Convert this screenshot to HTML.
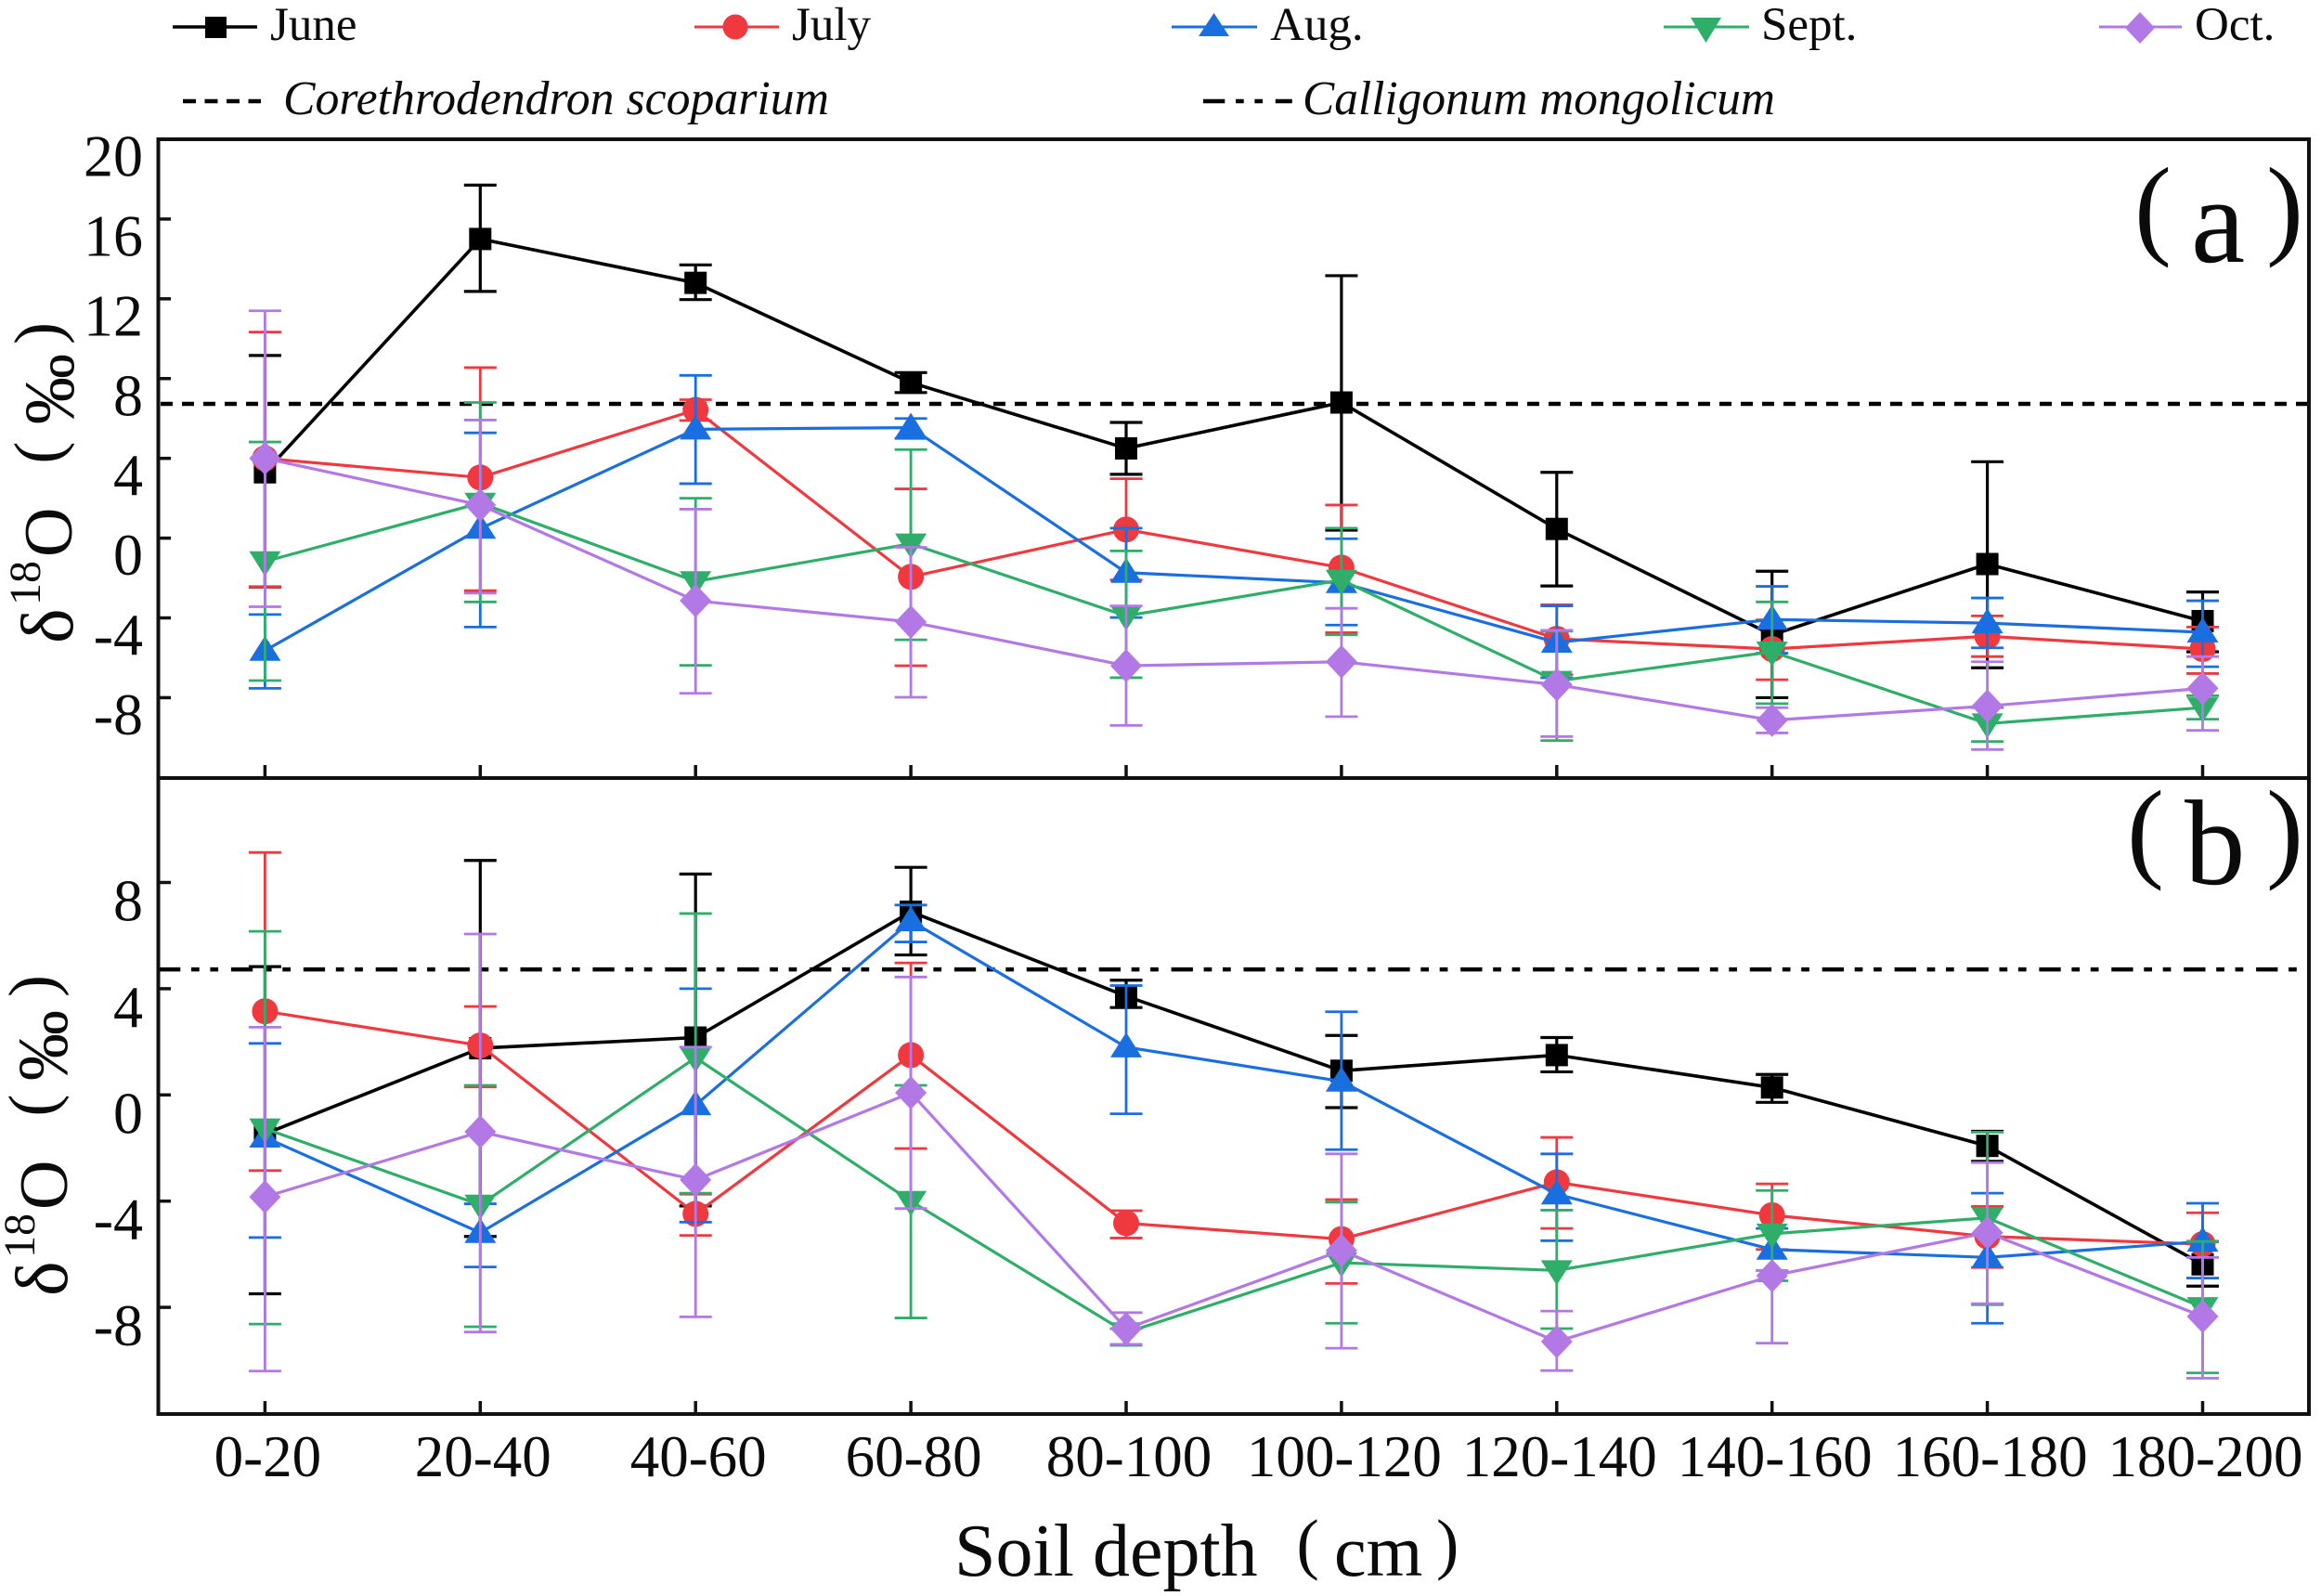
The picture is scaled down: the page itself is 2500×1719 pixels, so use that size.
<!DOCTYPE html>
<html lang="en">
<head>
<meta charset="utf-8">
<title>Soil water isotope profiles</title>
<style>
html,body{margin:0;padding:0;background:#fff;}
svg{display:block;}
text{font-family:"Liberation Serif","Noto Serif CJK SC",serif;fill:#0b0b0b;}
</style>
</head>
<body>
<svg id="chart" width="2500" height="1719" viewBox="0 0 2500 1719" xmlns="http://www.w3.org/2000/svg">
  <rect x="0" y="0" width="2500" height="1719" fill="#fff"/>

  <g>
    <g>
      <line x1="186" y1="29" x2="277" y2="29" stroke="#000" stroke-width="3.5"/>
      <rect x="221" y="18" width="23" height="23" fill="#000"/>
      <text x="291" y="43" font-size="51">June</text>
    </g>
    <g>
      <line x1="748" y1="29" x2="839" y2="29" stroke="#f0393f" stroke-width="3"/>
      <circle cx="792" cy="29" r="13.5" fill="#f0393f"/>
      <text x="853" y="43" font-size="51">July</text>
    </g>
    <g>
      <line x1="1262" y1="29" x2="1354" y2="29" stroke="#1a6fe0" stroke-width="3"/>
      <polygon points="1307.5,14 1324,39 1291,39" fill="#1a6fe0"/>
      <text x="1368" y="43" font-size="51">Aug.</text>
    </g>
    <g>
      <line x1="1792" y1="29" x2="1884" y2="29" stroke="#2eae68" stroke-width="3"/>
      <polygon points="1821,19 1854,19 1837.5,46" fill="#2eae68"/>
      <text x="1897" y="43" font-size="51">Sept.</text>
    </g>
    <g>
      <line x1="2261" y1="29" x2="2350" y2="29" stroke="#b278e6" stroke-width="3"/>
      <polygon points="2305,13 2321,30 2305,47 2289,30" fill="#b278e6"/>
      <text x="2364" y="43" font-size="51">Oct.</text>
    </g>
    <g>
      <line x1="197" y1="109" x2="281" y2="109" stroke="#000" stroke-width="4.5" stroke-dasharray="14 9.5"/>
      <text x="305" y="123" font-size="52" font-style="italic" textLength="588" lengthAdjust="spacingAndGlyphs">Corethrodendron scoparium</text>
    </g>
    <g>
      <line x1="1296" y1="109" x2="1392" y2="109" stroke="#000" stroke-width="4.5" stroke-dasharray="23.3 11.7 8.7 11.7 8.7 13.7 18"/>
      <text x="1403" y="123" font-size="52" font-style="italic" textLength="509" lengthAdjust="spacingAndGlyphs">Calligonum mongolicum</text>
    </g>
  </g>

  <g id="panel-a"></g>
  <g id="panel-b"></g>

  <rect x="170.5" y="150" width="2316.5" height="688" fill="none" stroke="#111" stroke-width="4"/>
  <rect x="170.5" y="838" width="2316.5" height="685" fill="none" stroke="#111" stroke-width="4"/>

  <g id="ticks"></g>

  <g>
    <text transform="translate(78,693) rotate(-90)" font-size="80">δ</text>
    <text transform="translate(43,652) rotate(-90)" font-size="48">18</text>
    <text transform="translate(77,600) rotate(-90)" font-size="74">O</text>
    <text transform="translate(65,499.5) rotate(-90)" font-size="72">(</text>
    <text transform="translate(79,457) rotate(-90)" font-size="76">‰</text>
    <text transform="translate(65,371) rotate(-90)" font-size="72">)</text>
  </g>
  <g>
    <text transform="translate(72,1396) rotate(-90)" font-size="80">δ</text>
    <text transform="translate(37,1355) rotate(-90)" font-size="48">18</text>
    <text transform="translate(72,1303) rotate(-90)" font-size="74">O</text>
    <text transform="translate(59,1202.5) rotate(-90)" font-size="72">(</text>
    <text transform="translate(72,1164) rotate(-90)" font-size="76">‰</text>
    <text transform="translate(59,1074) rotate(-90)" font-size="72">)</text>
  </g>

  <g>
    <text x="2299" y="263" font-size="120">(</text>
    <text x="2360" y="282" font-size="131">a</text>
    <text x="2441" y="263" font-size="120">)</text>
  </g>
  <g>
    <text x="2291" y="934" font-size="120">(</text>
    <text x="2353" y="952" font-size="131">b</text>
    <text x="2441" y="934" font-size="120">)</text>
  </g>

  <g>
    <text x="1028" y="1697" font-size="80">Soil depth</text>
    <text x="1396.5" y="1687" font-size="73">(</text>
    <text x="1437" y="1697" font-size="78">cm</text>
    <text x="1547" y="1687" font-size="73">)</text>
  </g>
</svg>

<script>
const categories = ['0-20','20-40','40-60','60-80','80-100','100-120','120-140','140-160','160-180','180-200'];
const yTicksA = [20,16,12,8,4,0,-4,-8];
const yTicksB = [8,4,0,-4,-8];
const referenceA = 6.73;
const referenceB = 4.725;

const juneA   = [3.3,15.0,12.8,7.8,4.5,6.8,0.46,-4.85,-1.3,-4.16];
const juneAHi = [9.16,17.7,13.7,8.3,5.8,13.16,3.3,-1.66,3.83,-2.7];
const juneALo = [-2.45,12.37,11.96,7.3,3.2,0.4,-2.4,-8.0,-6.5,-5.7];
const julyA   = [4.0,3.04,6.43,-1.94,0.43,-1.48,-5.05,-5.56,-4.92,-5.56];
const julyAHi = [10.33,8.55,6.94,2.47,2.98,1.66,-3.34,-4.1,-3.9,-4.46];
const julyALo = [-2.45,-2.63,5.9,-6.4,-2.1,-4.74,-6.84,-7.1,-5.94,-6.79];
const augA    = [-5.64,0.48,5.46,5.54,-1.73,-2.24,-5.23,-4.08,-4.26,-4.72];
const augAHi  = [-3.83,5.28,8.16,6.0,0.5,-0.03,-3.4,-2.42,-3.0,-3.14];
const augALo  = [-7.53,-4.46,2.73,5.0,-3.98,-4.36,-7.0,-5.77,-5.5,-6.45];
const septA   = [-1.17,1.76,-2.17,-0.28,-3.9,-2.1,-7.17,-5.7,-9.3,-8.5];
const septAHi = [4.82,6.8,2.0,4.44,-0.64,0.5,-4.67,-3.2,-8.5,-7.9];
const septALo = [-7.14,-3.2,-6.38,-5.1,-7.0,-4.85,-10.15,-8.3,-10.2,-9.08];
const octA    = [4.0,1.66,-3.14,-4.2,-6.4,-6.2,-7.35,-9.13,-8.42,-7.53];
const octAHi  = [11.4,5.92,1.45,-0.46,-3.4,-3.52,-4.62,-8.5,-6.2,-5.94];
const octALo  = [-3.44,-2.76,-7.78,-7.98,-9.39,-8.95,-9.95,-9.77,-10.6,-9.64];

const juneB   = [-1.47,1.76,2.16,6.9,3.72,0.91,1.5,0.28,-1.92,-6.38];
const juneBHi = [4.83,8.83,8.32,8.57,4.32,2.24,2.16,0.77,-1.37,-5.52];
const juneBLo = [-7.49,-5.33,-4.18,5.27,3.29,-0.48,0.87,-0.28,-2.5,-7.2];
const julyB   = [3.15,1.86,-4.48,1.5,-4.83,-5.43,-3.29,-4.53,-5.33,-5.62];
const julyBHi = [9.13,3.33,-3.74,4.97,-4.36,-3.94,-1.6,-3.35,-4.2,-4.44];
const julyBLo = [-2.85,0.3,-5.29,-2.02,-5.39,-7.1,-5.03,-5.82,-6.5,-6.9];
const augB    = [-1.6,-5.19,-0.38,6.55,1.8,0.51,-3.74,-5.82,-6.12,-5.52];
const augBHi  = [1.94,-4.1,4.0,7.15,4.12,3.13,-2.22,-5.03,-3.7,-4.08];
const augBLo  = [-5.37,-6.48,-4.79,5.76,-0.71,-2.06,-5.49,-6.61,-8.6,-6.9];
const septB   = [-1.27,-4.14,1.4,-4.0,-8.95,-6.32,-6.61,-5.23,-4.63,-8.0];
const septBHi = [6.16,0.36,6.83,0.36,-8.8,-4.04,-4.34,-3.6,-1.4,-5.52];
const septBLo = [-8.63,-8.73,-3.7,-8.4,-9.43,-8.6,-8.8,-7.0,-7.9,-10.47];
const octB    = [-3.84,-1.39,-3.2,0.08,-8.8,-5.86,-9.29,-6.81,-5.19,-8.34];
const octBHi  = [2.55,6.06,1.8,4.44,-8.2,-2.22,-8.14,-6.61,-2.55,-6.12];
const octBLo  = [-10.4,-8.93,-8.36,-4.28,-9.39,-9.54,-10.38,-9.35,-7.86,-10.67];

const NS = 'http://www.w3.org/2000/svg';
const COLORS = {june:'#000000', july:'#f0393f', aug:'#1a6fe0', sept:'#2eae68', oct:'#b278e6'};

function xPos(i){ return 285.4 + i * 231.9; }
function yA(v){ return 579.6 - v * 21.48; }
function yB(v){ return 1179.3 - v * 28.6; }

function make(tag, attrs, parent){
  const el = document.createElementNS(NS, tag);
  for (const k in attrs) el.setAttribute(k, attrs[k]);
  parent.appendChild(el);
  return el;
}

function drawMarker(key, cx, cy, parent){
  const c = COLORS[key];
  let el;
  if (key === 'june') {
    el = make('rect', {x:cx-12, y:cy-12, width:24, height:24, fill:c}, parent);
  } else if (key === 'july') {
    el = make('circle', {cx:cx, cy:cy, r:14, fill:c}, parent);
  } else if (key === 'aug') {
    el = make('polygon', {points:(cx)+','+(cy-16)+' '+(cx+17)+','+(cy+11)+' '+(cx-17)+','+(cy+11), fill:c}, parent);
  } else if (key === 'sept') {
    el = make('polygon', {points:(cx-17)+','+(cy-11)+' '+(cx+17)+','+(cy-11)+' '+(cx)+','+(cy+16), fill:c}, parent);
  } else {
    el = make('polygon', {points:(cx)+','+(cy-18)+' '+(cx+17)+','+(cy)+' '+(cx)+','+(cy+18)+' '+(cx-17)+','+(cy), fill:c}, parent);
  }
  
  
}

function drawSeries(panel, key, mean, hi, lo, yFn){
  const c = COLORS[key];
  const g = make('g', {}, panel);
  
  
  const w = key === 'june' ? 3.2 : 2.8;
  for (let i = 0; i < mean.length; i++) {
    const x = xPos(i);
    const bar = make('path', {
      d:'M'+x+' '+yFn(hi[i])+'V'+yFn(lo[i])+
        'M'+(x-17.5)+' '+yFn(hi[i])+'H'+(x+17.5)+
        'M'+(x-17.5)+' '+yFn(lo[i])+'H'+(x+17.5),
      fill:'none', stroke:c, 'stroke-width':w
    }, g);
    
    
  }
  const pts = mean.map(function(v, i){ return xPos(i) + ',' + yFn(v); }).join(' ');
  const line = make('polyline', {points:pts, fill:'none', stroke:c, 'stroke-width':w+0.4}, g);
  
  
  for (let i = 0; i < mean.length; i++) drawMarker(key, xPos(i), yFn(mean[i]), g);
}

const panelA = document.getElementById('panel-a');
const panelB = document.getElementById('panel-b');
const ticksG = document.getElementById('ticks');

const refA = make('line', {x1:171, x2:2487, y1:yA(referenceA), y2:yA(referenceA), stroke:'#000', 'stroke-width':4.5, 'stroke-dasharray':'13 10', 'stroke-dashoffset':-2}, panelA);


const refB = make('line', {x1:171, x2:2487, y1:yB(referenceB), y2:yB(referenceB), stroke:'#000', 'stroke-width':4.5, 'stroke-dasharray':'23.3 11.7 8.7 11.7 8.7 13.8'}, panelB);



drawSeries(panelA, 'june', juneA, juneAHi, juneALo, yA);
drawSeries(panelA, 'july', julyA, julyAHi, julyALo, yA);
drawSeries(panelA, 'aug',  augA,  augAHi,  augALo,  yA);
drawSeries(panelA, 'sept', septA, septAHi, septALo, yA);
drawSeries(panelA, 'oct',  octA,  octAHi,  octALo,  yA);

drawSeries(panelB, 'june', juneB, juneBHi, juneBLo, yB);
drawSeries(panelB, 'july', julyB, julyBHi, julyBLo, yB);
drawSeries(panelB, 'aug',  augB,  augBHi,  augBLo,  yB);
drawSeries(panelB, 'sept', septB, septBHi, septBLo, yB);
drawSeries(panelB, 'oct',  octB,  octBHi,  octBLo,  yB);

function drawYTicks(ticks, yFn, offset, label){
  ticks.forEach(function(v){
    const y = yFn(v);
    const t = make('line', {x1:171, x2:184, y1:y, y2:y, stroke:'#111', 'stroke-width':3.5}, ticksG);
    
    
    const txt = make('text', {x:154, y:y+offset, 'font-size':64, 'text-anchor':'end'}, ticksG);
    txt.textContent = String(v);
    
    
  });
}
drawYTicks(yTicksA, yA, 39.5, 'panel-a');
drawYTicks(yTicksB, yB, 41, 'panel-b');

categories.forEach(function(name, i){
  const x = xPos(i);
  const tickA = make('line', {x1:x, x2:x, y1:838, y2:824, stroke:'#111', 'stroke-width':3.5}, ticksG);
  
  
  const tickB = make('line', {x1:x, x2:x, y1:1523, y2:1509, stroke:'#111', 'stroke-width':3.5}, ticksG);
  
  
  const lab = make('text', {x:x+3, y:1590, 'font-size':63, 'text-anchor':'middle'}, ticksG);
  lab.textContent = name;
  
  
});
</script>
</body>
</html>
